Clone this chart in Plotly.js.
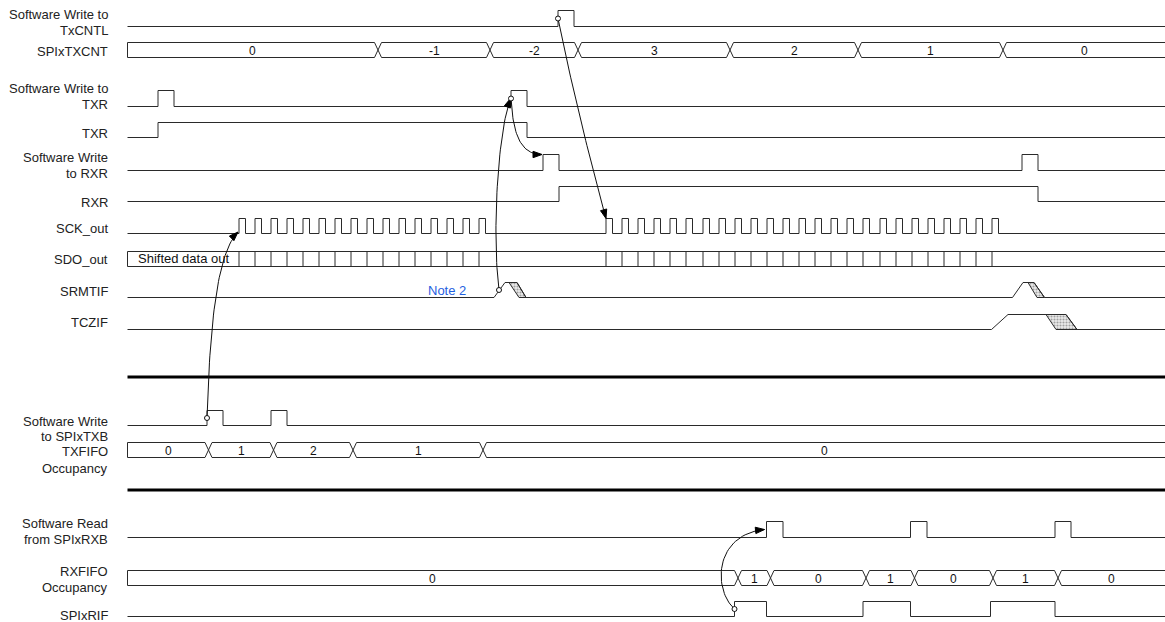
<!DOCTYPE html>
<html><head><meta charset="utf-8">
<script src="https://cdn.plot.ly/plotly-3.0.1.min.js"></script>
<style>html,body{margin:0;padding:0;background:#fff}#chart{width:1165px;height:622px}</style>
</head><body><div id="chart"></div>
<script>
// ================= DATA (x = time, in diagram time units) =================
const rowNames = ['Software Write to TxCNTL','SPIxTXCNT','Software Write to TXR','TXR','Software Write to RXR','RXR','SCK_out','SDO_out','SRMTIF','TCZIF','Software Write to SPIxTXB','TXFIFO Occupancy','Software Read from SPIxRXB','RXFIFO Occupancy','SPIxRIF'];

const txcntlEdges = [558, 574];
const txcntTimes  = [378, 490, 578, 730, 858, 1003];
const txcntValues = ['0', '-1', '-2', '3', '2', '1', '0'];
const swTxrEdges  = [158, 174, 511, 527];
const txrEdges    = [158, 527];
const swRxrEdges  = [543, 559, 1022, 1038];
const rxrEdges    = [559, 1038];
const sckRises1   = [239, 255, 271, 287, 303, 319, 335, 351, 367, 383, 399, 415, 431, 447, 463, 479];
const sckRises2   = [606, 622, 638, 654, 670, 686, 703, 719, 735, 751, 767, 783, 799, 815, 831, 847, 863, 880, 896, 912, 928, 944, 960, 976, 992];
const sdoFirstText = 'Shifted data out';
// flag pulses: ramp up start/end, hatched fall (top start/end, bottom start/end)
const srmtifRampStart = [494, 1012.5];
const srmtifRampEnd   = [505, 1023];
const srmtifHatchTop0 = [509, 1028];
const srmtifHatchTop1 = [517, 1034];
const srmtifHatchBot0 = [519, 1037];
const srmtifHatchBot1 = [526, 1044.5];
const tczifRampStart = [991.5];
const tczifRampEnd   = [1008];
const tczifHatchTop0 = [1046];
const tczifHatchTop1 = [1066];
const tczifHatchBot0 = [1056];
const tczifHatchBot1 = [1077];
const spiTxbEdges  = [207, 223, 271, 287];
const txfifoTimes  = [208.5, 273.5, 353, 483];
const txfifoValues = ['0', '1', '2', '1', '0'];
const spiRxbEdges  = [766.5, 783, 910.5, 927, 1055, 1071];
const rxfifoTimes  = [738, 770.5, 866, 914.5, 993, 1058];
const rxfifoValues = ['0', '1', '0', '1', '0', '1', '0'];
const rifEdges     = [734.5, 766.5, 863, 910.5, 990.5, 1055];
const noteText = 'Note 2';
const noteTime = 447;
// causal arrows: [fromRow, fromTime, toRow, toTime]
const arrowFromRow  = ['spiTxb', 'srmtif', 'swTxr', 'txcntl', 'rif'];
const arrowFromTime = [207, 499, 511, 558, 734.5];
const arrowToRow    = ['sck', 'swTxr', 'swRxr', 'sck', 'spiRxb'];
const arrowToTime   = [238, 510.5, 542, 606, 764.5];

// ================= LAYOUT (positions / styles) =================
const T0 = 127.5, T1 = 1165;
const rows = {
  txcntl: {low: 26.5, high: 10.5, label: ['Software Write to', 'TxCNTL'], ly: [14, 30]},
  txcnt:  {top: 42.5, bot: 57.5, label: ['SPIxTXCNT'], ly: [51.5]},
  swTxr:  {low: 106.5, high: 90.5, label: ['Software Write to', 'TXR'], ly: [88, 104.5]},
  txr:    {low: 137.5, high: 122.5, label: ['TXR'], ly: [133]},
  swRxr:  {low: 170.5, high: 154.5, label: ['Software Write', 'to RXR'], ly: [157, 173]},
  rxr:    {low: 201.5, high: 186.5, label: ['RXR'], ly: [202.5]},
  sck:    {low: 233.5, high: 218.5, label: ['SCK_out'], ly: [228]},
  sdo:    {top: 251.5, bot: 266.5, label: ['SDO_out'], ly: [259]},
  srmtif: {low: 297.5, high: 282.5, label: ['SRMTIF'], ly: [291.5]},
  tczif:  {low: 329.5, high: 314.5, label: ['TCZIF'], ly: [322.5]},
  spiTxb: {low: 425.5, high: 410.5, label: ['Software Write', 'to SPIxTXB'], ly: [421, 436.5]},
  txfifo: {top: 442.5, bot: 457.5, label: ['TXFIFO', 'Occupancy'], ly: [451, 468]},
  spiRxb: {low: 537.5, high: 521.5, label: ['Software Read', 'from SPIxRXB'], ly: [523, 539]},
  rxfifo: {top: 570.5, bot: 585.5, label: ['RXFIFO', 'Occupancy'], ly: [571, 587]},
  rif:    {low: 616.5, high: 601.5, label: ['SPIxRIF'], ly: [615]}
};
const separators = [377, 490];
const LC = '#2a2a2a';
const FONT = 'Arial, "Liberation Sans", sans-serif';
const X_HALF = 3.5;
const SCK_HIGH = 6.5;

const traces = [];
const annotations = [];
function addLine(x, y, extra) {
  traces.push(Object.assign({type: 'scatter', mode: 'lines', x: x, y: y,
    line: {color: LC, width: 1}, hoverinfo: 'skip', showlegend: false}, extra || {}));
}
function digital(edges, r) {
  const x = [T0], y = [r.low];
  let lvl = r.low;
  edges.forEach(e => { x.push(e); y.push(lvl); lvl = (lvl === r.low) ? r.high : r.low; x.push(e); y.push(lvl); });
  x.push(T1); y.push(lvl);
  addLine(x, y);
}
function bus(times, values, r) {
  const x = [T0, T0, null], y = [r.top, r.bot, null];
  const mid = (r.top + r.bot) / 2;
  const bounds = [T0].concat(times).concat([T1]);
  for (let i = 0; i < bounds.length - 1; i++) {
    const a = i === 0 ? T0 : bounds[i] + X_HALF;
    const b = i === bounds.length - 2 ? T1 : bounds[i + 1] - X_HALF;
    x.push(a, b, null, a, b, null); y.push(r.top, r.top, null, r.bot, r.bot, null);
    annotations.push({x: (bounds[i] + bounds[i + 1]) / 2, y: mid + 0.5, text: values[i], showarrow: false,
      xanchor: 'center', yanchor: 'middle', font: {family: FONT, size: 12, color: '#111'}});
  }
  times.forEach(t => {
    x.push(t - X_HALF, t + X_HALF, null, t - X_HALF, t + X_HALF, null);
    y.push(r.top, r.bot, null, r.bot, r.top, null);
  });
  addLine(x, y);
}
function flag(rs, re, ht0, ht1, hb0, hb1, r) {
  const x = [T0], y = [r.low];
  for (let i = 0; i < rs.length; i++) {
    x.push(rs[i], re[i], ht1[i], hb1[i]); y.push(r.low, r.high, r.high, r.low);
    traces.push({type: 'scatter', mode: 'lines', x: [ht0[i], ht1[i], hb1[i], hb0[i], ht0[i]],
      y: [r.high, r.high, r.low, r.low, r.high], fill: 'toself', fillcolor: '#e0e0e0',
      fillpattern: {shape: '.', fgcolor: '#a0a0a0', bgcolor: '#ececec', size: 3, solidity: 0.4},
      line: {color: LC, width: 1}, hoverinfo: 'skip', showlegend: false});
  }
  x.push(T1); y.push(r.low);
  addLine(x, y);
}
function sck(r) {
  const edges = [];
  sckRises1.concat(sckRises2).forEach(t => edges.push(t, t + SCK_HIGH));
  digital(edges, r);
}
function sdo(r) {
  const x = [T0, T0, null, T0, T1, null, T0, T1, null], y = [r.top, r.bot, null, r.top, r.top, null, r.bot, r.bot, null];
  sckRises1.concat(sckRises2).forEach(t => { x.push(t, t, null); y.push(r.top, r.bot, null); });
  addLine(x, y);
  annotations.push({x: T0 + 8, y: (r.top + r.bot) / 2 - 1, text: sdoFirstText, showarrow: false, xanchor: 'left', yanchor: 'middle',
    font: {family: FONT, size: 13, color: '#111'}});
}

digital(txcntlEdges, rows.txcntl);
bus(txcntTimes, txcntValues, rows.txcnt);
digital(swTxrEdges, rows.swTxr);
digital(txrEdges, rows.txr);
digital(swRxrEdges, rows.swRxr);
digital(rxrEdges, rows.rxr);
sck(rows.sck);
sdo(rows.sdo);
flag(srmtifRampStart, srmtifRampEnd, srmtifHatchTop0, srmtifHatchTop1, srmtifHatchBot0, srmtifHatchBot1, rows.srmtif);
flag(tczifRampStart, tczifRampEnd, tczifHatchTop0, tczifHatchTop1, tczifHatchBot0, tczifHatchBot1, rows.tczif);
digital(spiTxbEdges, rows.spiTxb);
bus(txfifoTimes, txfifoValues, rows.txfifo);
digital(spiRxbEdges, rows.spiRxb);
bus(rxfifoTimes, rxfifoValues, rows.rxfifo);
digital(rifEdges, rows.rif);
separators.forEach(s => addLine([T0, T1], [s, s], {line: {color: '#000', width: 3}}));

// row labels
Object.keys(rows).forEach(k => {
  const r = rows[k];
  r.label.forEach((t, i) => annotations.push({x: 110, y: r.ly[i], text: t, showarrow: false, xanchor: 'right', yanchor: 'middle',
    font: {family: FONT, size: 13, color: '#222'}}));
});
annotations.push({x: noteTime, y: 290, text: noteText, showarrow: false, xanchor: 'center', yanchor: 'middle',
  font: {family: FONT, size: 13, color: '#1f5fe0'}});

// arrows (style: where on the edge they attach, and how they bend)
const arrowFromY = ['mid', 'mid', 'mid', 'mid', 'mid'];
const arrowToY   = ['low+', 'mid', 'high', 'high', 'mid'];
const arrowCtrl  = [[[3, -100], [-20, 20]], [[-7, -55], [-13, 35]], [[2, 35], [-22, 0]], [[12, 60], [-16, -58]], [[-22, -20], [-50, 5]]];
function edgeY(r, w) { if (w === 'mid') return (r.low + r.high) / 2; if (w === 'high') return r.high; return r.low - 1.5; }
const circX = [], circY = [];
for (let i = 0; i < arrowFromRow.length; i++) {
  const p0 = [arrowFromTime[i], edgeY(rows[arrowFromRow[i]], arrowFromY[i])];
  const p3 = [arrowToTime[i], edgeY(rows[arrowToRow[i]], arrowToY[i])];
  const c1 = [p0[0] + arrowCtrl[i][0][0], p0[1] + arrowCtrl[i][0][1]];
  const c2 = [p3[0] + arrowCtrl[i][1][0], p3[1] + arrowCtrl[i][1][1]];
  const x = [], y = [];
  for (let s = 0; s <= 40; s++) {
    const t = s / 40, u = 1 - t;
    x.push(u*u*u*p0[0] + 3*u*u*t*c1[0] + 3*u*t*t*c2[0] + t*t*t*p3[0]);
    y.push(u*u*u*p0[1] + 3*u*u*t*c1[1] + 3*u*t*t*c2[1] + t*t*t*p3[1]);
  }
  addLine(x, y, {line: {color: '#111', width: 1}});
  let dx = p3[0] - c2[0], dy = p3[1] - c2[1];
  const L = Math.hypot(dx, dy); dx /= L; dy /= L;
  const len = 9, w = 3.2;
  const bx = p3[0] - dx * len, by = p3[1] - dy * len;
  traces.push({type: 'scatter', mode: 'lines', x: [p3[0], bx - dy * w, bx + dy * w, p3[0]], y: [p3[1], by + dx * w, by - dx * w, p3[1]],
    fill: 'toself', fillcolor: '#000', line: {color: '#000', width: 1}, hoverinfo: 'skip', showlegend: false});
  circX.push(p0[0]); circY.push(p0[1]);
}
traces.push({type: 'scatter', mode: 'markers', x: circX, y: circY, marker: {symbol: 'circle', size: 5, color: '#fff', line: {color: '#111', width: 1}},
  hoverinfo: 'skip', showlegend: false});

const layout = {
  width: 1165, height: 622, margin: {l: 0, r: 0, t: 0, b: 0},
  paper_bgcolor: '#fff', plot_bgcolor: '#fff',
  xaxis: {range: [0, 1165], visible: false, fixedrange: true},
  yaxis: {range: [622, 0], visible: false, fixedrange: true},
  showlegend: false, hovermode: false, annotations: annotations
};
Plotly.newPlot('chart', traces, layout, {staticPlot: true, displayModeBar: false});
</script>
</body></html>
